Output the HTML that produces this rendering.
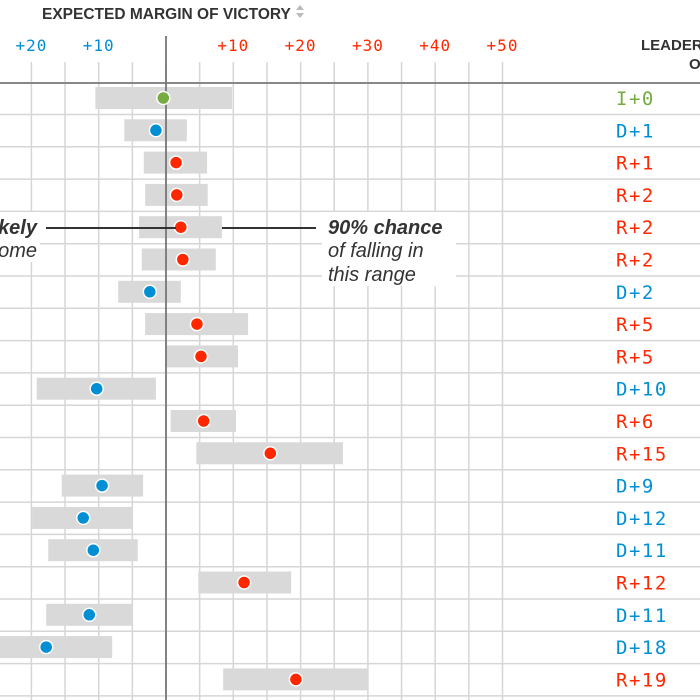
<!DOCTYPE html>
<html><head><meta charset="utf-8"><style>
body{margin:0;background:#fff;}
svg{display:block;}
</style></head><body>
<svg id="c" width="700" height="700" xmlns="http://www.w3.org/2000/svg"></svg>
<script>
const lows  = [-10.5,-6.2,-3.3,-3.1,-4.0,-3.6,-7.1,-3.1,-0.1,-19.2,0.7,4.5,-15.5,-19.9,-17.5,4.8,-17.8,-25.4,8.5];
const highs = [9.8,3.1,6.1,6.2,8.3,7.4,2.2,12.2,10.7,-1.5,10.4,26.3,-3.4,-4.9,-4.2,18.6,-4.9,-8.0,30.0];
const dots  = [-0.4,-1.5,1.5,1.6,2.2,2.5,-2.4,4.6,5.2,-10.3,5.6,15.5,-9.5,-12.3,-10.8,11.6,-11.4,-17.8,19.3];
const parties = ["I","D","R","R","R","R","D","R","R","D","R","R","D","D","D","R","D","D","R"];
const leads = ["+0","+1","+1","+2","+2","+2","+2","+5","+5","+10","+6","+15","+9","+12","+11","+12","+11","+18","+19"];
const tickVals = [-20,-10,10,20,30,40,50];
const tickLabels = ["+20","+10","+10","+20","+30","+40","+50"];
const gridVals = [-25,-20,-15,-10,-5,0,5,10,15,20,25,30,35,40,45,50];

const NS="http://www.w3.org/2000/svg";
const svg=document.getElementById('c');
const x=v=>166+v*6.73;
const y=i=>98+i*32.3;
const col={R:"#ff2700",D:"#008fd5",I:"#77ab43"};
function mk(t,a,p){const e=document.createElementNS(NS,t);for(const k in a)e.setAttribute(k,a[k]);(p||svg).appendChild(e);return e;}

for(let i=0;i<19;i++){
  const l=mk('line',{x1:0,x2:700,y1:y(i)+16.5,y2:y(i)+16.5,stroke:"#d6d6d6","stroke-width":1.5});
  
  
}
gridVals.forEach(v=>{
  const l=mk('line',{x1:x(v),x2:x(v),y1:62,y2:700,stroke:"#d6d6d6","stroke-width":1.5});
  
  
});
const ax=mk('line',{x1:0,x2:700,y1:83,y2:83,stroke:"#888","stroke-width":2});


tickVals.forEach((v,i)=>{
  const t=mk('text',{x:x(v),y:51,"text-anchor":"middle","font-family":"DejaVu Sans Mono, Liberation Mono, monospace","font-size":16,"letter-spacing":1,fill:v<0?"#008fd5":"#ff2700"});
  t.textContent=tickLabels[i];
  
  
});
for(let i=0;i<19;i++){
  const r=mk('rect',{x:x(lows[i]),y:y(i)-11,width:x(highs[i])-x(lows[i]),height:22,fill:"#d9d9d9"});
  
  
}
const z=mk('line',{x1:x(0),x2:x(0),y1:36,y2:700,stroke:"#777","stroke-width":1.8});


for(let i=0;i<19;i++){
  const c=mk('circle',{cx:x(dots[i]),cy:y(i),r:6.5,fill:col[parties[i]],stroke:"#fff","stroke-width":1.5});
  
  
  const t=mk('text',{x:616,y:y(i)+7,"font-family":"DejaVu Sans Mono, Liberation Mono, monospace","font-size":19,"letter-spacing":1.5,fill:col[parties[i]]});
  t.textContent=parties[i]+leads[i];
  
  
}
const g=mk('g',{});


mk('rect',{x:0,y:212,width:40,height:50,fill:"#fff"},g);
mk('rect',{x:322,y:212,width:134,height:74,fill:"#fff"},g);
mk('line',{x1:46,x2:176,y1:228,y2:228,stroke:"#333","stroke-width":2},g);
mk('line',{x1:222,x2:316,y1:228,y2:228,stroke:"#333","stroke-width":2},g);
const F='font-family="Liberation Sans, sans-serif" font-style="italic" font-size="20" fill="#333"';
g.insertAdjacentHTML('beforeend',
 `<text x="37" y="234" text-anchor="end" ${F} font-weight="bold">kely</text>
  <text x="37" y="257" text-anchor="end" ${F}>ome</text>
  <text x="328" y="234" ${F} font-weight="bold">90% chance</text>
  <text x="328" y="257" ${F}>of falling in</text>
  <text x="328" y="281" ${F}>this range</text>`);
svg.insertAdjacentHTML('beforeend',
 `<rect x="0" y="0" width="700" height="30" fill="#fff"/>
  <text x="42" y="19" font-family="Liberation Sans, sans-serif" font-weight="bold" font-size="15.5" fill="#333">EXPECTED MARGIN OF VICTORY</text>
  <g fill="#bbb"><path d="M296 10 L300 5 L304 10Z"/><path d="M296 13 L300 18 L304 13Z"/></g>
  <text x="641" y="50" font-family="Liberation Sans, sans-serif" font-weight="bold" font-size="15" fill="#333">LEADER</text>
  <text x="689" y="69" font-family="Liberation Sans, sans-serif" font-weight="bold" font-size="15" fill="#333">O</text>`);
</script>
</body></html>
